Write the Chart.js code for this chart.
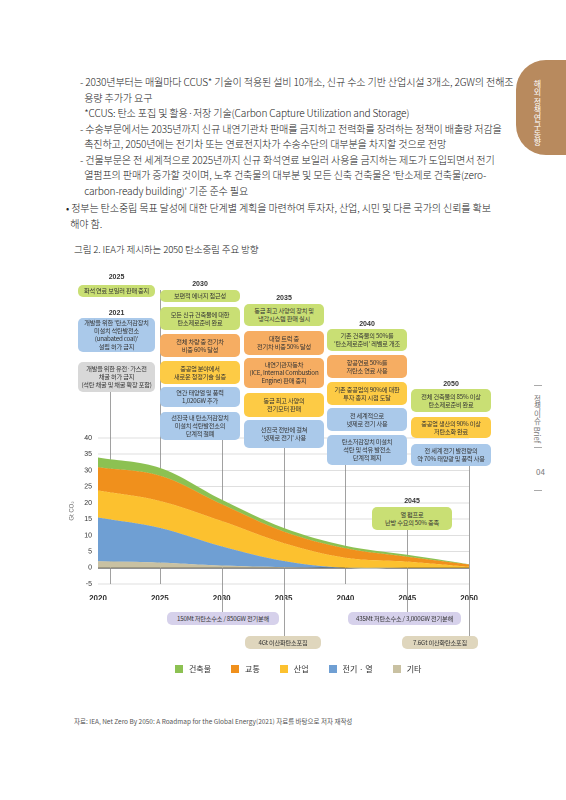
<!DOCTYPE html>
<html><head><meta charset="utf-8">
<script src="https://cdn.jsdelivr.net/npm/chart.js@4"></script>
<style>
body{margin:0;width:566px;height:800px;background:#fff;font-family:"Noto Sans CJK KR",sans-serif;color:#333;position:relative;overflow:hidden}
.t{position:absolute;font-size:10.1px;line-height:15.5px;letter-spacing:-0.15px;font-weight:300;color:#222;white-space:nowrap}
.b{position:absolute;border-radius:5px;font-size:6.2px;line-height:8px;text-align:center;display:flex;align-items:center;justify-content:center;color:#333;letter-spacing:-0.2px}
.yr{position:absolute;font-size:7px;font-weight:bold;text-align:center;font-family:"Liberation Sans",sans-serif}
.g{background:#c9df74}.o{background:#f6ad62}.y{background:#fdcb45}.bl{background:#aac9ea}.gr{background:#d8d8d8}.p{background:#d6d1eb}.tn{background:#dfd6bd}
#leg{position:absolute;top:663px;left:175px;font-size:8px;display:flex;gap:20px}
#leg span i{display:inline-block;width:8px;height:8px;margin-right:6px;vertical-align:-1px}
</style></head><body>
<div class="t" style="left:80px;top:74px">- 2030년부터는 매월마다 CCUS* 기술이 적용된 설비 10개소, 신규 수소 기반 산업시설 3개소, 2GW의 전해조<br>&nbsp;&nbsp;용량 추가가 요구<br>&nbsp;&nbsp;*CCUS: 탄소 포집 및 활용·저장 기술(Carbon Capture Utilization and Storage)<br>- 수송부문에서는 2035년까지 신규 내연기관차 판매를 금지하고 전력화를 장려하는 정책이 배출량 저감을<br>&nbsp;&nbsp;촉진하고, 2050년에는 전기차 또는 연료전지차가 수송수단의 대부분을 차지할 것으로 전망<br>- 건물부문은 전 세계적으로 2025년까지 신규 화석연료 보일러 사용을 금지하는 제도가 도입되면서 전기<br>&nbsp;&nbsp;열펌프의 판매가 증가할 것이며, 노후 건축물의 대부분 및 모든 신축 건축물은 '탄소제로 건축물(zero-<br>&nbsp;&nbsp;carbon-ready building)' 기준 준수 필요</div>
<div class="t" style="left:66px;top:200px">• 정부는 탄소중립 목표 달성에 대한 단계별 계획을 마련하여 투자자, 산업, 시민 및 다른 국가의 신뢰를 확보<br>&nbsp;&nbsp;해야 함.</div>
<div class="t" style="left:74px;top:242px;font-size:9.6px">그림 2. IEA가 제시하는 2050 탄소중립 주요 방향</div>
<div style="position:absolute;left:516px;top:60px;width:60px;height:95px;background:#b88a5e;border-radius:30px 0 0 30px"></div>
<div style="position:absolute;left:532px;top:80px;writing-mode:vertical-rl;font-size:8px;color:#fff">해외 정책연구동향</div>
<div style="position:absolute;left:532px;top:395px;writing-mode:vertical-rl;font-size:7.5px;color:#777">정책이슈 Brief</div>
<div style="position:absolute;left:536px;top:466px;font-size:8px;color:#777">04</div>
<div style="position:absolute;left:534px;top:385px;width:8px;border-top:1px solid #aaa"></div>
<div style="position:absolute;left:534px;top:447px;width:8px;border-top:1px solid #aaa"></div>
<div style="position:absolute;left:534px;top:490px;width:8px;border-top:1px solid #aaa"></div>

<canvas id="c" width="412" height="380" style="position:absolute;left:68px;top:260px;width:412px;height:380px"></canvas>

<div id="ann"></div>
<div id="leg"></div>
<div style="position:absolute;left:74px;top:716px;font-size:6.5px;color:#555">자료: IEA, Net Zero By 2050: A Roadmap for the Global Energy(2021) 자료를 바탕으로 저자 재작성</div>
<script>
const years=[2020,2025,2030,2035,2040,2045,2050];
const other=[2,1.6,0.7,0.2,0,0,0];
const power=[13.5,10.7,5.9,1.9,0,0,0];
const industry=[8.3,8.3,7.8,5.5,3.1,1.9,0.3];
const transport=[7.2,7.8,5.2,3.6,2.9,1.5,0.7];
const buildings=[3,2.4,1.4,1.1,0.8,0.6,0.1];
const yTicks=[-5,0,5,10,15,20,25,30,35,40];
const names=['건축물','교통','산업','전기 · 열','기타'];
const colors=['#8cc152','#f0901c','#fcc12f','#6f9fd3','#c9c1a2'];
const series=[buildings,transport,industry,power,other];
const order=[4,3,2,1,0];
const boxes=[
['g','화석 연료 보일러 판매 중지',78,285,77,12],
['bl','개발을 위한 \'탄소저감장치<br>미설치 석탄발전소<br>(unabated coal)\'<br>설립 허가 금지',78,318,77,34],
['gr','개발을 위한 유전·가스전<br>채굴 허가 금지<br>(석탄 채굴 및 채굴 확장 포함)',78,362,77,30],
['g','보편적 에너지 접근성',160,290,80,12],
['g','모든 신규 건축물에 대한<br>탄소제로준비 완료',160,307,80,23],
['o','전체 차량 중 전기차<br>비중 60% 달성',160,334,80,23],
['y','중공업 분야에서<br>새로운 청정기술 실증',160,361,80,23],
['bl','연간 태양열 및 풍력<br>1,020GW 추가',160,387,80,20],
['bl','선진국 내 탄소저감장치<br>미설치 석탄발전소의<br>단계적 철폐',160,412,80,28],
['g','동급 최고 사양의 장치 및<br>냉각시스템 판매 실시',244,304,80,22],
['o','대형 트럭 중<br>전기차 비중 50% 달성',244,331,80,24],
['o','내연기관자동차<br>(ICE, Internal Combustion<br>Engine) 판매 중지',244,358,80,30],
['y','동급 최고 사양의<br>전기모터 판매',244,393,80,24],
['bl','선진국 전반에 걸쳐<br>\'넷제로 전기\' 사용',244,420,80,28],
['g','기존 건축물의 50%를<br>\'탄소제로준비\' 레벨로 개조',327,329,80,22],
['o','항공연료 50%를<br>저탄소 연료 사용',327,355,80,23],
['y','기존 중공업의 90%에 대한<br>투자 종지 시점 도달',327,382,80,23],
['bl','전 세계적으로<br>넷제로 전기 사용',327,408,80,23],
['bl','탄소저감장치 미설치<br>석탄 및 석유 발전소<br>단계적 폐지',327,435,80,30],
['g','전체 건축물의 85% 이상<br>탄소제로준비 완료',411,389,80,23],
['y','중공업 생산의 90% 이상<br>저탄소화 완료',411,417,80,21],
['bl','전 세계 전기 발전량의<br>약 70% 태양광 및 풍력 사용',411,444,80,22],
['g','열 펌프로<br>난방 수요의 50% 충족',372,507,80,23],
['p','150Mt 저탄소수소 / 850GW 전기분해',167,612,112,13],
['tn','4Gt 이산화탄소포집',245,636,76,13],
['p','435Mt 저탄소수소 / 3,000GW 전기분해',348,612,113,13],
['tn','7.6Gt 이산화탄소포집',402,636,76,13]];
const yrs=[['2025',78,273,77],['2021',78,309,77],['2030',160,280,80],['2035',244,294,80],['2040',327,320,80],['2050',411,380,80],['2045',372,497,80]];
let h='';
boxes.forEach(b=>h+=`<div class="b ${b[0]}" style="left:${b[2]}px;top:${b[3]}px;width:${b[4]}px;height:${b[5]}px">${b[1]}</div>`);
yrs.forEach(y=>h+=`<div class="yr" style="left:${y[1]}px;top:${y[2]}px;width:${y[3]}px">${y[0]}</div>`);
document.getElementById('ann').innerHTML=h;
document.getElementById('leg').innerHTML=names.map((n,i)=>`<span><i style="background:${colors[i]}"></i>${n}</span>`).join('');
const leaders=[[2021,392,584],[2025,290,584],[2030,440,612],[2035,448,636],[2040,465,584],[2045,530,612],[2050,466,636]];
const lp={id:'lead2',beforeDatasetsDraw(ch){const c=ch.ctx,x=ch.scales.x;c.save();c.strokeStyle='#8a8a8a';c.lineWidth=0.8;
leaders.forEach(l=>{const px=Math.round(x.getPixelForValue(l[0]))+0.5;c.beginPath();c.moveTo(px,l[1]-260);c.lineTo(px,l[2]-260);c.stroke();});c.restore();}};
new Chart(document.getElementById('c'),{type:'line',
data:{datasets:order.map((i,k)=>({label:names[i],data:years.map((yv,j)=>({x:yv,y:series[i][j]})),backgroundColor:colors[i],borderWidth:0,pointRadius:0,tension:0.35,fill:k===0?'origin':'-1'}))},
options:{responsive:false,animation:false,devicePixelRatio:2,
layout:{padding:{top:178,right:6,left:0,bottom:40}},
plugins:{legend:{display:false},tooltip:{enabled:false}},
scales:{x:{type:'linear',min:2020,max:2050,afterBuildTicks:s=>{s.ticks=years.map(v=>({value:v}))},
ticks:{callback:v=>v,font:{family:'Liberation Sans',size:8,weight:'bold'},color:'#333',maxRotation:0,padding:2},
grid:{display:false},border:{display:false},afterFit:s=>{s.height=16}},
y:{stacked:true,min:-5,max:40,afterBuildTicks:s=>{s.ticks=yTicks.map(v=>({value:v}))},
ticks:{font:{family:'Liberation Sans',size:7},color:'#333',padding:6},
grid:{color:c=>c.tick.value===0?'#222':'#d4d4d4',lineWidth:c=>c.tick.value===0?1:0.8,drawTicks:false},border:{display:false},
title:{display:true,text:'Gt CO₂',font:{size:6},padding:0},afterFit:s=>{s.width=30}}}},
plugins:[lp]});
</script>
</body></html>
